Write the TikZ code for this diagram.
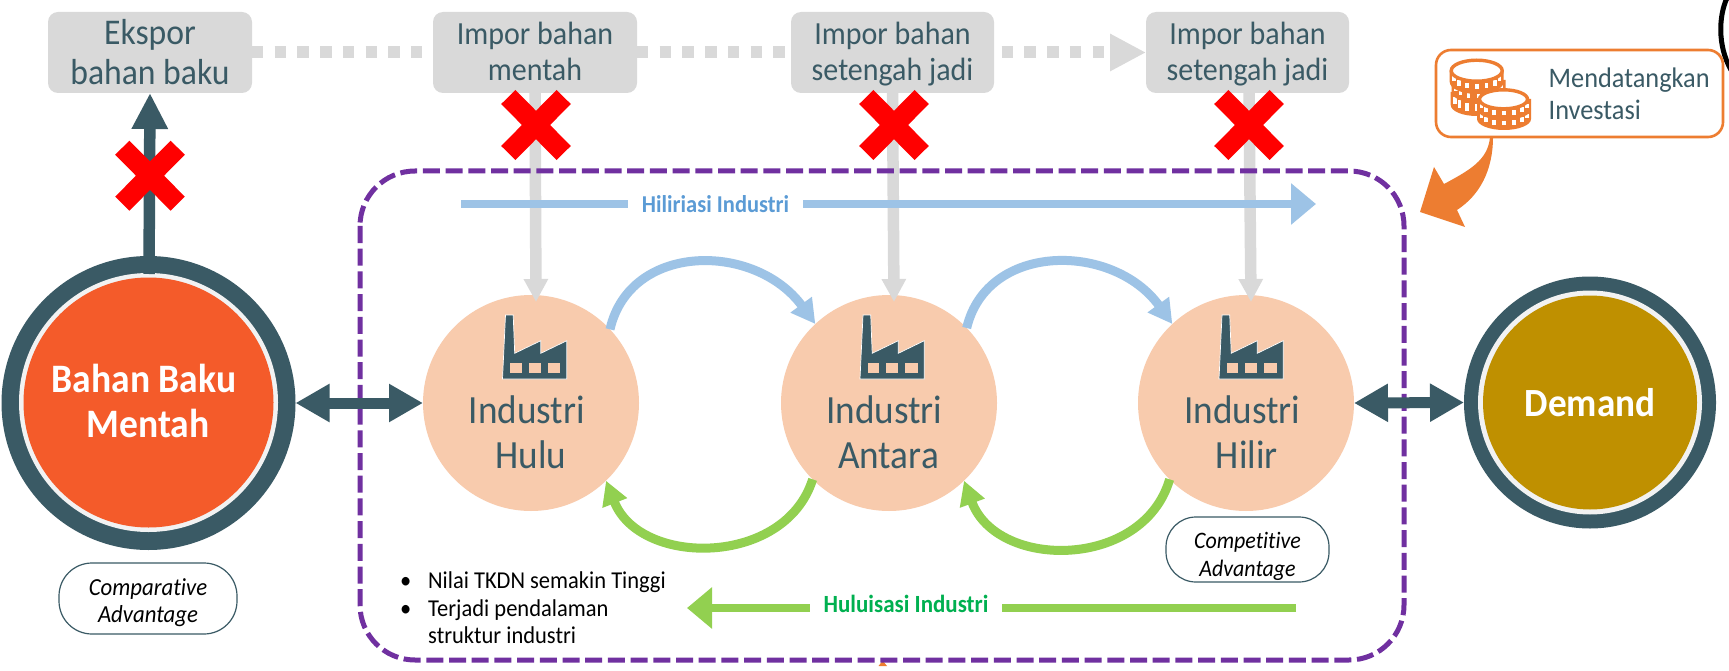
\documentclass[tikz,border=0pt]{standalone}
\usepackage{fontspec}
\setmainfont[FakeStretch=0.93,Ligatures=NoCommon]{Carlito}
\usetikzlibrary{arrows.meta}
\definecolor{darkteal}{HTML}{3A5A65}
\definecolor{greybox}{HTML}{D9D9D9}
\definecolor{peach}{HTML}{F8CBAD}
\definecolor{redorange}{HTML}{F45B2A}
\definecolor{mustard}{HTML}{BF9000}
\definecolor{ringwhite}{HTML}{F2F2F2}
\definecolor{purpleline}{HTML}{7030A0}
\definecolor{bluearrow}{HTML}{9DC3E6}
\definecolor{bluetext}{HTML}{5B9BD5}
\definecolor{greenarrow}{HTML}{92D050}
\definecolor{greentext}{HTML}{00B050}
\definecolor{orangeC}{HTML}{ED7D31}
\newcommand{\fsz}[1]{\fontsize{#1}{#1}\selectfont}
\newcommand{\mycoin}[5]{%
  \fill[orangeC] (#1-#3,#2) -- (#1-#3,#2+#5) arc[start angle=180,end angle=0,x radius=#3,y radius=#4] -- (#1+#3,#2) -- cycle;
  \foreach \a in {15,40,65,90,115,140,165}{
    \draw[white,line width=3.6pt] ({#1+(#3-3.5)*cos(\a)},{#2+(#4-1)*sin(\a)+2}) -- ++(0,{#5-5.5});}
}
\newcommand{\mytop}[4]{\draw[orangeC,fill=white,line width=3.4pt] (#1,#2) ellipse [x radius=#3,y radius=#4];}
\tikzset{
  x=1pt,y=-1pt,
  greytile/.style={fill=greybox,rounded corners=10pt,minimum width=204pt,minimum height=81pt,inner sep=0pt,outer sep=0pt,text=darkteal,align=center},
  indcircle/.style={circle,fill=peach,minimum size=216pt,inner sep=0pt,outer sep=0pt},
  indlabel/.style={text=darkteal,align=center,font=\fsz{40},inner sep=0pt},
  pill/.style={draw=darkteal,line width=1.2pt,fill=white,align=center,inner sep=0pt,outer sep=0pt,font=\itshape\fsz{24.5}},
  ringouter/.style={circle,fill=darkteal,inner sep=0pt,outer sep=0pt},
  ringmid/.style={circle,fill=ringwhite,inner sep=0pt,outer sep=0pt},
  ringinner/.style={circle,inner sep=0pt,outer sep=0pt,text=white,align=center,font=\bfseries\fsz{40}},
  greyarrow/.style={draw=greybox,line width=11.5pt,-{Triangle[length=23pt,width=23pt]}},
  dotline/.style={draw=greybox,line width=12pt,dash pattern=on 11.4pt off 11.3pt},
  bluestraight/.style={draw=bluearrow,line width=8.5pt,-{Triangle[length=25pt,width=40pt]}},
  greenstraight/.style={draw=greenarrow,line width=8.5pt,-{Triangle[length=25pt,width=40pt]}},
  bluecurve/.style={draw=bluearrow,line width=9pt,-{Triangle[length=24pt,width=25pt]}},
  greencurve/.style={draw=greenarrow,line width=9pt,-{Triangle[length=24pt,width=25pt]}},
  dbl/.style={draw=darkteal,line width=11pt,{Triangle[length=34pt,width=36pt]}-{Triangle[length=34pt,width=36pt]}},
  redx/.pic={
    \draw[red,line width=20pt] (-27.7,-28) -- (27.7,28);
    \draw[red,line width=20pt] (-27.7,28) -- (27.7,-28);
  },
  factory/.pic={
    \draw[darkteal,fill=darkteal,draw=white,line width=.7pt] (0,64) -- (3,0) -- (10.7,0) -- (12.2,38.3) -- (38.3,25.7) -- (38.3,38.3) -- (64.3,25.7) -- (64.3,64) -- cycle;
    \fill[peach] (7.6,48.3) rectangle (19.1,57.7);
    \fill[peach] (26,48.3) rectangle (38.3,57.7);
    \fill[peach] (45,48.3) rectangle (57.6,57.7);
  }
}
\begin{document}
\begin{tikzpicture}
\useasboundingbox (0,0) rectangle (1729,671);
\fill[white] (0,0) rectangle (1729,671);

% stray marks at the edges of the reference
\draw[black,line width=5pt] (1727,-2) .. controls (1719,15) and (1717,45) .. (1731,70);
\fill[orangeC] (878.5,666) -- (882.7,660.7) -- (887,666) -- cycle;

% top tiles
\node[greytile,font=\fsz{36.2}] (ekspor) at (150,52.5) {Ekspor\rule{0pt}{28pt}\\[4.5pt]bahan baku\rule[-4pt]{0pt}{0pt}};
\node[greytile,font=\fsz{32.25}] (impor1) at (535,52.5) {Impor bahan\rule{0pt}{27pt}\\[3.75pt]mentah\rule[-6pt]{0pt}{0pt}};
\node[greytile,font=\fsz{32.25},minimum width=203pt] (impor2) at (892.5,52.5) {Impor bahan\rule{0pt}{27pt}\\[3.75pt]setengah jadi\rule[-6pt]{0pt}{0pt}};
\node[greytile,font=\fsz{32.25},minimum width=203pt] (impor3) at (1247.5,52.5) {Impor bahan\rule{0pt}{27pt}\\[3.75pt]setengah jadi\rule[-6pt]{0pt}{0pt}};

\path[dotline] (ekspor.east) -- (impor1.west);
\path[dotline] (impor1.east) -- (impor2.west);
\path[dotline,dash phase=15pt,-{Triangle[length=36pt,width=35pt]}] (impor2.east) -- (impor3.west);

% circles
\node[indcircle] (hulu) at (531,403) {};
\node[indcircle] (antara) at (889,403) {};
\node[indcircle] (hilir) at (1246,403) {};
\pic at (502.5,315) {factory};
\pic at (860,315) {factory};
\pic at (1219,315) {factory};
\node[indlabel] (huluT) at (531,432) {Industri\hspace*{8.5pt}\\[5pt]Hulu};
\node[indlabel] (antaraT) at (888.5,432) {Industri\hspace*{8.5pt}\\[5pt]Antara};
\node[indlabel] (hilirT) at (1246.7,432) {Industri\hspace*{8.5pt}\\[5pt]Hilir};

\node[ringouter,minimum size=294pt] (ringL) at (148.5,403) {};
\node[ringmid,minimum size=259pt] (ringLm) at (148.5,402.5) {};
\node[ringinner,fill=redorange,minimum size=250pt] (bahan) at (148.5,402.5) {};
\node[text=white,align=center,font=\bfseries\fsz{40.4},inner sep=0pt] (bahanT) at (148,400.5) {Bahan Baku\hspace*{8pt}\\[4.6pt]Mentah};

\node[ringouter,minimum size=252pt] (ringR) at (1590,402.5) {};
\node[ringmid,minimum size=224pt] (ringRm) at (1590,402.5) {};
\node[ringinner,fill=mustard,minimum size=214pt] (demand) at (1590,402.5) {Demand};

% grey arrows into the circles
\coordinate (g1) at (536,302);
\coordinate (g2) at (894,302);
\coordinate (g3s) at (1249,93);
\coordinate (g3) at (1251,302);
\path[greyarrow] (impor1.south) -- (g1);
\path[greyarrow] (impor2.south) -- (g2);
\path[greyarrow] (g3s) -- (g3);

% purple frame
\draw[purpleline,line width=5pt,dash pattern=on 17pt off 5.7pt,rounded corners=55pt] (360,171) rectangle (1404,660);

% straight blue and green
\coordinate (hilS) at (461,204);
\coordinate (hilE) at (1316,204);
\path[bluestraight] (hilS) -- (hilE);
\node[fill=white,text=bluetext,font=\bfseries\fsz{24.2},inner sep=0pt,minimum width=175pt,minimum height=22pt] (hilT) at (715.5,204) {Hiliriasi Industri};
\coordinate (hulS) at (1296,608);
\coordinate (hulE) at (687,608);
\path[greenstraight] (hulS) -- (hulE);
\node[fill=white,text=greentext,font=\bfseries\fsz{24.7},inner sep=0pt,minimum width=192pt,minimum height=24pt] (hulT) at (906,604) {Huluisasi Industri};

% curved
\path[bluecurve] (hulu.43.5) .. controls (630,242) and (755,242) .. (antara.133);
\path[bluecurve] (antara.44) .. controls (987,242) and (1113,242) .. (hilir.133);
\path[greencurve] (antara.225) .. controls (785,567) and (640,567) .. (hulu.314);
\path[greencurve] (hilir.225) .. controls (1143,570) and (997,570) .. (antara.314);

% dark arrows
\coordinate (stem) at (149,274);
\draw[draw=darkteal,line width=11.5pt,-{Triangle[length=36pt,width=34pt]}] (stem) -- (ekspor.south);
\path[dbl] (ringL.east) -- (hulu.west);
\path[dbl] (hilir.east) -- (ringR.west);

% red crosses
\pic at (150,175.7) {redx};
\pic at (536,125) {redx};
\pic at (894,125) {redx};
\pic at (1249,125) {redx};

% pills
\node[pill,minimum width=178pt,minimum height=71pt,rounded corners=33pt] (comp) at (148,598.5) {Comparative\rule{0pt}{25pt}\\[2.5pt]Advantage};
\node[pill,minimum width=163pt,minimum height=65pt,rounded corners=30pt,font=\itshape\fsz{23.6}] (compt) at (1247.5,549.5) {Competitive\rule{0pt}{30pt}\\[4.4pt]Advantage};

% bullets
\node[anchor=west,align=left,inner sep=0pt,font=\fsz{24.2}] (bul) at (400,608) {\makebox[28pt][l]{\textbullet}Nilai TKDN semakin Tinggi\\[3.3pt]\makebox[28pt][l]{\textbullet}Terjadi pendalaman\\[3.3pt]\hspace*{28pt}struktur industri};

% investasi box
\node[draw=orangeC,line width=2.6pt,fill=white,rounded corners=15pt,minimum width=287pt,minimum height=87pt,inner sep=0pt,outer sep=0pt] (inv) at (1579.5,93.5) {};
\fill[orangeC] (1493,137) .. controls (1493,170) and (1480,195) .. (1457,210) -- (1465,227) -- (1420,212) -- (1434,167) -- (1444,184) .. controls (1470,170) and (1488,160) .. (1490,137) -- cycle;
\mycoin{1476.7}{92}{26}{11}{13}
\mycoin{1478.5}{80}{27}{11}{12}
\mycoin{1476.7}{71}{27}{12}{11}
\mytop{1476.7}{70.7}{25.5}{10.5}
\mycoin{1504}{109}{27}{11}{10}
\mycoin{1504}{99}{27}{11}{10}
\mytop{1503.5}{99.3}{24}{9.5}
\node[anchor=west,text=darkteal,align=left,inner sep=0pt,font=\fsz{28.3}] (invT) at (1548.5,93.5) {Mendatangkan\\[3.3pt]Investasi};
\end{tikzpicture}
\end{document}
